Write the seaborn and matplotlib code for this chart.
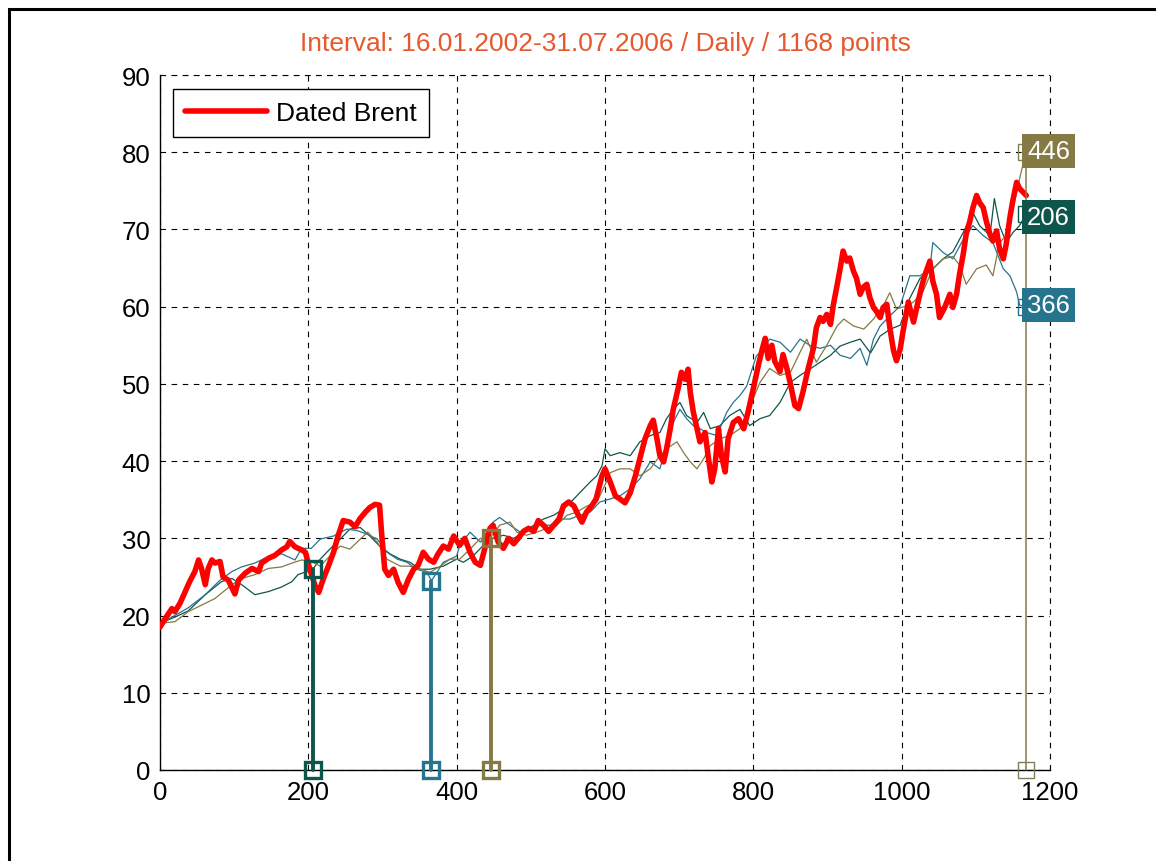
import numpy as np
import pandas as pd
import matplotlib
matplotlib.use("Agg")
import matplotlib.pyplot as plt
import seaborn as sns
from matplotlib.patches import Rectangle

# ---------------- data ----------------
brent_x = [0, 7, 16, 20, 27, 34, 40, 47, 52, 56, 61, 65, 70, 74, 81, 85, 92, 101, 106, 115,
           124, 133, 137, 146, 155, 164, 171, 175, 182, 191, 196, 202, 209, 214, 220, 227, 234,
           240, 247, 256, 263, 270, 277, 283, 290, 296, 299, 303, 308, 315, 321, 328, 335, 342,
           348, 355, 362, 369, 375, 382, 389, 396, 404, 411, 418, 425, 432, 439, 445, 449, 456,
           463, 470, 477, 483, 490, 497, 504, 510, 517, 524, 531, 538, 544, 551, 558, 564, 569,
           575, 582, 588, 596, 600, 607, 614, 620, 627, 634, 641, 647, 654, 661, 665, 670, 674,
           679, 683, 688, 692, 699, 703, 708, 712, 715, 719, 724, 728, 735, 739, 744, 748, 753,
           757, 762, 766, 773, 780, 787, 793, 800, 807, 812, 816, 820, 825, 829, 836, 840, 845,
           850, 856, 861, 867, 874, 881, 885, 890, 894, 899, 904, 908, 912, 917, 921, 926, 930,
           935, 939, 944, 948, 953, 957, 962, 966, 971, 975, 980, 984, 989, 993, 998, 1002, 1009,
           1016, 1022, 1027, 1031, 1038, 1042, 1047, 1051, 1058, 1065, 1069, 1074, 1078, 1083,
           1087, 1092, 1096, 1101, 1105, 1110, 1114, 1119, 1123, 1128, 1132, 1137, 1141, 1146,
           1150, 1155, 1159, 1164, 1168]
brent_y = [18.5, 19.6, 20.9, 20.5, 21.6, 23.1, 24.4, 25.7, 27.2, 26.1, 24.0, 26.1, 27.2, 26.8,
           27.0, 25.0, 24.6, 22.8, 24.6, 25.5, 26.1, 25.7, 26.8, 27.4, 27.8, 28.5, 28.9, 29.6,
           28.9, 28.5, 28.2, 26.0, 23.9, 23.0, 24.7, 26.4, 28.2, 30.3, 32.3, 32.1, 31.5, 32.6,
           33.4, 34.0, 34.4, 34.3, 30.4, 26.0, 25.2, 26.0, 24.3, 23.0, 24.7, 26.0, 26.5, 28.2,
           27.3, 26.9, 28.0, 29.0, 28.6, 30.3, 29.1, 30.0, 28.2, 26.9, 26.5, 29.1, 31.3, 31.7,
           29.5, 28.7, 30.0, 29.3, 30.0, 30.9, 31.3, 30.9, 32.3, 31.7, 30.9, 31.7, 32.5, 34.2,
           34.7, 34.2, 33.0, 32.1, 33.4, 34.2, 35.1, 38.1, 39.0, 37.3, 35.5, 35.1, 34.6, 35.9,
           38.1, 40.3, 42.9, 44.6, 45.3, 42.9, 40.7, 39.9, 41.6, 44.2, 46.7, 49.6, 51.5, 50.6,
           51.9, 48.9, 46.4, 44.2, 42.5, 43.7, 40.7, 37.3, 39.0, 44.2, 40.7, 38.6, 42.9, 45.0,
           45.5, 44.2, 46.4, 49.4, 52.5, 54.5, 55.9, 53.3, 55.0, 52.9, 51.6, 53.8, 52.1, 50.0,
           47.2, 46.8, 49.0, 52.0, 54.6, 57.3, 58.6, 58.1, 59.0, 57.7, 60.3, 62.3, 64.9, 67.2,
           65.9, 66.3, 64.6, 63.7, 61.6, 62.5, 62.9, 61.2, 59.9, 59.4, 58.6, 59.9, 60.3, 57.3,
           54.3, 53.0, 54.5, 56.9, 60.6, 58.0, 60.6, 62.6, 64.0, 65.9, 63.3, 61.6, 58.6, 59.9,
           61.6, 59.9, 61.6, 64.2, 66.8, 69.4, 71.1, 72.8, 74.4, 73.5, 72.8, 71.1, 69.4, 68.5,
           69.8, 67.5, 66.2, 68.1, 71.6, 73.8, 76.1, 75.3, 74.8, 74.4]

s206_x = [0, 20, 38, 61, 83, 97, 110, 128, 146, 164, 178, 186, 198, 206, 216, 229, 243, 256,
          270, 283, 296, 310, 324, 337, 351, 364, 382, 400, 409, 422, 436, 449, 463, 477, 490,
          504, 517, 531, 544, 558, 571, 580, 589, 596, 600, 607, 620, 634, 647, 661, 674, 683,
          692, 701, 710, 724, 733, 742, 755, 768, 782, 795, 809, 822, 836, 850, 863, 876, 890,
          904, 917, 931, 944, 958, 971, 985, 998, 1011, 1025, 1042, 1056, 1069, 1083, 1096,
          1105, 1119, 1125, 1132, 1141, 1150, 1159, 1168]
s206_y = [19.0, 19.8, 20.6, 22.7, 24.4, 24.8, 24.0, 22.7, 23.1, 23.7, 24.4, 25.3, 25.7, 26.0,
          27.3, 28.6, 29.9, 31.2, 31.4, 30.3, 29.0, 28.0, 27.3, 26.9, 26.0, 26.0, 26.4, 27.3,
          26.9, 27.7, 29.1, 30.0, 30.4, 30.0, 30.8, 31.7, 32.5, 33.0, 33.8, 35.1, 36.4, 37.3,
          38.1, 39.4, 41.6, 40.7, 41.1, 40.7, 42.5, 43.3, 43.7, 45.5, 46.7, 47.6, 45.9, 45.0,
          46.3, 44.2, 44.6, 45.9, 46.7, 44.6, 45.5, 45.9, 47.6, 50.2, 51.1, 51.9, 52.8, 53.7,
          54.9, 55.4, 55.8, 54.0, 56.2, 57.1, 57.6, 61.1, 63.7, 64.9, 66.2, 67.1, 69.6, 72.2,
          70.5, 69.2, 74.0, 70.5, 68.3, 69.6, 70.5, 72.0]

s366_x = [0, 20, 38, 61, 80, 97, 110, 128, 141, 164, 182, 191, 204, 216, 234, 252, 266, 280,
          293, 306, 320, 333, 346, 360, 366, 382, 400, 404, 418, 432, 449, 458, 472, 486, 499,
          512, 526, 539, 553, 566, 580, 593, 607, 620, 634, 647, 661, 674, 683, 692, 701, 710,
          719, 728, 737, 751, 764, 773, 782, 791, 804, 809, 822, 836, 850, 863, 876, 890, 904,
          917, 931, 944, 953, 962, 971, 984, 998, 1011, 1025, 1038, 1042, 1056, 1069, 1083,
          1096, 1110, 1123, 1137, 1146, 1155, 1159, 1168]
s366_y = [19.0, 20.0, 21.0, 22.7, 24.5, 25.7, 26.3, 26.8, 27.4, 28.0, 27.2, 28.7, 28.7, 29.9,
          30.3, 31.2, 31.0, 30.5, 29.9, 28.2, 27.3, 26.9, 26.0, 25.6, 24.5, 26.9, 27.7, 29.1,
          30.8, 29.5, 32.1, 32.7, 31.7, 30.8, 31.3, 31.7, 31.7, 32.5, 32.5, 33.0, 33.4, 34.7,
          35.1, 35.5, 36.4, 37.7, 39.9, 39.0, 42.0, 45.0, 46.7, 45.5, 44.6, 44.2, 43.7, 43.3,
          46.3, 47.6, 48.5, 49.7, 53.6, 54.1, 55.8, 55.4, 54.1, 55.8, 55.0, 54.6, 55.0, 53.7,
          53.3, 54.6, 52.4, 55.8, 57.5, 58.8, 60.1, 64.0, 64.0, 64.9, 68.3, 67.0, 66.2, 68.7,
          70.5, 69.2, 68.3, 64.9, 64.0, 61.9, 60.2, 60.0]

s446_x = [0, 20, 38, 74, 97, 110, 128, 146, 164, 178, 191, 204, 216, 229, 243, 256, 270, 280,
          293, 306, 324, 337, 351, 364, 378, 391, 404, 418, 432, 446, 458, 472, 481, 494, 508,
          522, 535, 549, 562, 576, 589, 600, 607, 620, 634, 647, 661, 674, 683, 697, 706, 715,
          724, 733, 742, 755, 768, 782, 795, 809, 822, 836, 850, 863, 872, 885, 899, 913, 922,
          935, 949, 962, 975, 984, 993, 1007, 1016, 1029, 1042, 1056, 1069, 1078, 1087, 1101,
          1114, 1123, 1132, 1141, 1150, 1157, 1162, 1168]
s446_y = [19.0, 19.2, 20.5, 22.2, 24.0, 24.8, 25.3, 26.1, 26.3, 26.8, 27.2, 27.0, 26.4, 27.7,
          29.0, 28.6, 29.9, 30.8, 29.5, 27.3, 26.4, 26.4, 26.0, 25.6, 26.4, 27.3, 27.3, 28.6,
          30.0, 30.2, 31.7, 32.1, 30.8, 30.4, 30.8, 31.3, 31.7, 33.0, 33.4, 34.2, 34.7, 36.9,
          38.5, 39.0, 39.0, 38.1, 39.0, 40.7, 41.6, 42.5, 41.1, 39.9, 39.0, 40.3, 42.0, 42.9,
          43.3, 44.2, 47.0, 50.2, 52.0, 51.1, 51.5, 54.1, 55.8, 52.8, 55.0, 57.5, 58.4, 57.5,
          57.1, 58.4, 60.1, 61.8, 59.7, 60.1, 60.6, 62.0, 64.9, 66.2, 66.5, 65.4, 62.9, 64.9,
          65.4, 64.0, 68.3, 69.2, 72.7, 75.7, 77.8, 80.0]

series_names = ["206", "366", "446"]
series_colors = ["#0e564b", "#27748e", "#857944"]
marker_x = [206, 366, 446]
marker_y = [26.0, 24.5, 30.0]
end_x = 1168
end_y = [72.0, 60.0, 80.0]
label_y = [71.6, 60.2, 80.2]

x_ticks = [0, 200, 400, 600, 800, 1000, 1200]
y_ticks = [0, 10, 20, 30, 40, 50, 60, 70, 80, 90]
title_text = "Interval: 16.01.2002-31.07.2006 / Daily / 1168 points"
legend_label = "Dated Brent"

# ---------------- styling ----------------
sns.set_style("white")
plt.rcParams["font.family"] = ["Liberation Sans", "DejaVu Sans"]
plt.rcParams["text.color"] = "black"
plt.rcParams["axes.labelcolor"] = "black"
plt.rcParams["xtick.color"] = "black"
plt.rcParams["ytick.color"] = "black"

W, H = 1156, 862
fig = plt.figure(figsize=(W / 100, H / 100), dpi=100)
ax = fig.add_axes([160 / W, 1 - 771 / H, 890 / W, 695 / H])

# figure frame (top and left visible, cropped at right/bottom)
fig.patches.append(Rectangle((8.5 / W, -0.2), 2.0, 1 - 10 / H + 0.2, transform=fig.transFigure,
                             fill=False, edgecolor="black", linewidth=2.2, zorder=0))

# thin analogue series
thin = [(s206_x, s206_y), (s366_x, s366_y), (s446_x, s446_y)]
for (xs, ys), name, col in zip(thin, series_names, series_colors):
    df = pd.DataFrame({"x": xs, "y": ys})
    sns.lineplot(data=df, x="x", y="y", ax=ax, color=col, linewidth=0.9,
                 estimator=None, sort=False, zorder=3, legend=False)

# main series
dfb = pd.DataFrame({"x": brent_x, "y": brent_y})
sns.lineplot(data=dfb, x="x", y="y", ax=ax, color="#ff0000", linewidth=4.0,
             estimator=None, sort=False, zorder=4, label=legend_label)

# vertical markers at analogue positions
for mx, my, col in zip(marker_x, marker_y, series_colors):
    ax.plot([mx, mx], [0, my], color=col, linewidth=2.8, zorder=5, clip_on=False,
            marker="s", markersize=11.5, markerfacecolor="none", markeredgecolor=col,
            markeredgewidth=2.4)

# vertical line at the end
ax.plot([end_x, end_x], [0, end_y[2]], color=series_colors[2], linewidth=1.1, zorder=5,
        clip_on=False, marker="s", markersize=11.5, markerfacecolor="none",
        markeredgecolor="#7d7f5a", markeredgewidth=1.0)
for ey, col in zip(end_y[:2], series_colors[:2]):
    ax.plot([end_x], [ey], marker="s", markersize=11.5, markerfacecolor="none",
            markeredgecolor=col, markeredgewidth=1.0, zorder=5, clip_on=False)

# end labels
for ly, name, col in zip(label_y, series_names, series_colors):
    ax.text(1169, ly, name, color="white", fontsize=18.5, ha="left", va="center",
            zorder=10, clip_on=False,
            bbox=dict(boxstyle="square,pad=0.2", facecolor=col, edgecolor="none"))

ax.set_xlim(0, 1200)
ax.set_ylim(0, 90)
ax.set_xticks(x_ticks)
ax.set_yticks(y_ticks)
ax.set_xlabel("")
ax.set_ylabel("")
ax.tick_params(axis="both", direction="in", length=5, width=1, labelsize=18.5,
               colors="black", labelcolor="black", pad=7)
ax.grid(True, color="black", linestyle=(0, (5, 5)), linewidth=0.8)
for side in ["top", "right"]:
    ax.spines[side].set_visible(False)
for side in ["left", "bottom"]:
    ax.spines[side].set_visible(True)
    ax.spines[side].set_color("black")
    ax.spines[side].set_linewidth(1.0)
ax.set_axisbelow(True)

# the top (90) and right (1200) grid edges are dashed lines
ax.axhline(90, color="black", linestyle=(0, (5, 5)), linewidth=0.8, zorder=1, clip_on=False)
ax.axvline(1200, color="black", linestyle=(0, (5, 5)), linewidth=0.8, zorder=1, clip_on=False)

leg = ax.legend(loc="upper left", bbox_to_anchor=((173 - 160) / 890, 1 - (90 - 76) / 695),
                borderaxespad=0, fontsize=19, handlelength=3.1, handletextpad=0.35,
                borderpad=0.45, fancybox=False, framealpha=1, edgecolor="black",
                labelcolor="black")
leg.get_frame().set_linewidth(1.0)
leg.set_zorder(20)

fig.text(605 / W, 1 - 44 / H, title_text, color="#e6582e", fontsize=19,
         ha="center", va="center")

fig.savefig("out.png", dpi=100, facecolor="white")
